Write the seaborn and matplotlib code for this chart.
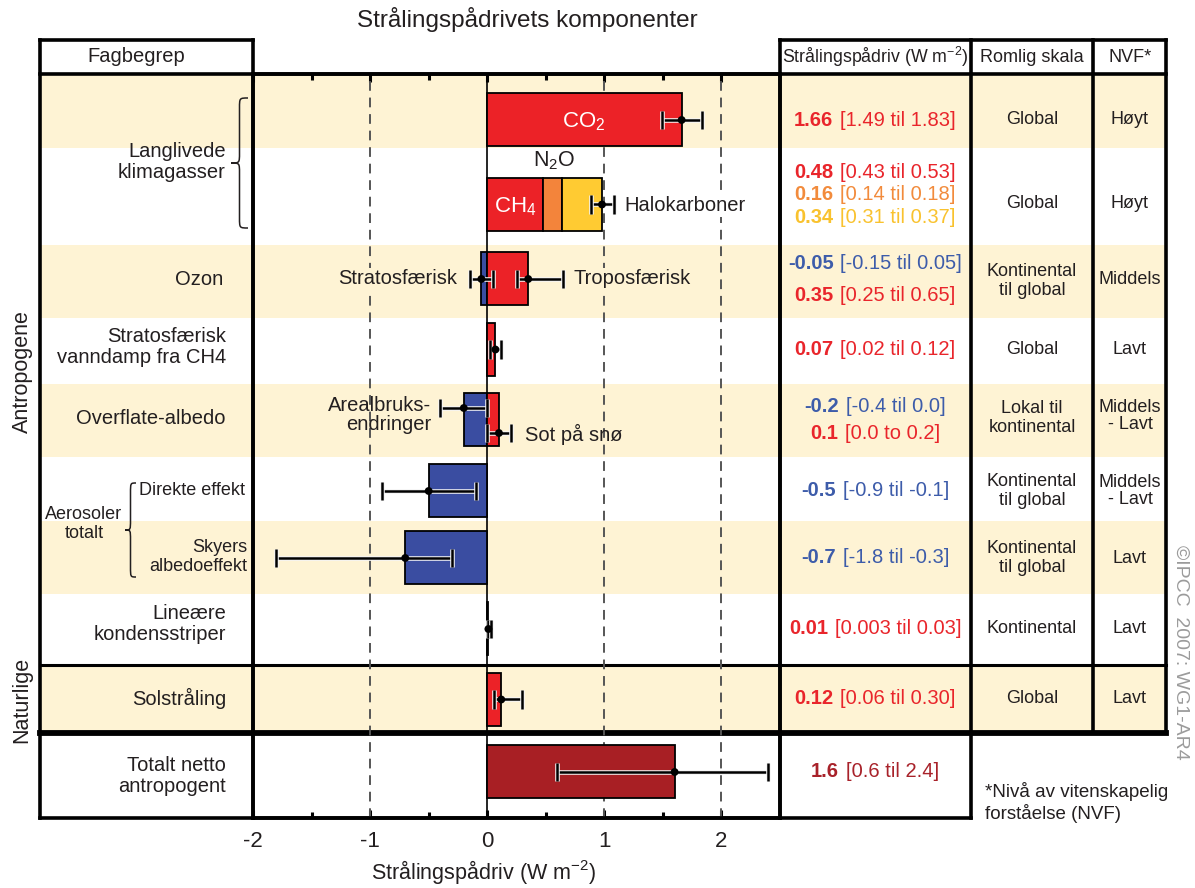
import matplotlib
matplotlib.use("Agg")
import matplotlib.pyplot as plt
import matplotlib.patheffects as pe
from matplotlib.path import Path
from matplotlib.patches import PathPatch, Rectangle
from matplotlib.offsetbox import TextArea, HPacker, AnnotationBbox
import numpy as np
import pandas as pd
import seaborn as sns

# ---------------- data ----------------
bar_components = ["CO2", "CH4", "N2O", "Halokarboner", "Stratosfærisk ozon", "Troposfærisk ozon",
                  "Stratosfærisk vanndamp", "Arealbruksendringer", "Sot på snø", "Direkte effekt",
                  "Skyers albedoeffekt", "Lineære kondensstriper", "Solstråling",
                  "Totalt netto antropogent"]
bar_values = [1.66, 0.48, 0.16, 0.34, -0.05, 0.35, 0.07, -0.20, 0.10, -0.50, -0.70, 0.01, 0.12, 1.60]
bar_rows = [0, 1, 1, 1, 2, 2, 3, 4, 4, 5, 6, 7, 8, 9]
bar_kind = ["rod", "rod", "oransje", "gul", "bla", "rod", "rod", "bla", "rod", "bla", "bla",
            "rod", "rod", "total"]

err_rows = [0, 1, 2, 2, 3, 4, 4, 5, 6, 7, 8, 9]
err_best = [1.66, 0.98, -0.05, 0.35, 0.07, -0.20, 0.10, -0.50, -0.70, 0.01, 0.12, 1.60]
err_low = [1.49, 0.89, -0.15, 0.25, 0.02, -0.40, 0.00, -0.90, -1.80, 0.003, 0.06, 0.60]
err_high = [1.83, 1.08, 0.05, 0.65, 0.12, 0.00, 0.20, -0.10, -0.30, 0.03, 0.30, 2.40]

row_labels = ["Langlivede\nklimagasser", "Ozon", "Stratosfærisk\nvanndamp fra CH4",
              "Overflate-albedo", "Lineære\nkondensstriper", "Solstråling",
              "Totalt netto\nantropogent"]
aerosol_labels = ["Direkte effekt", "Skyers\nalbedoeffekt"]

rf_best = ["1.66", "0.48", "0.16", "0.34", "-0.05", "0.35", "0.07", "-0.2", "0.1", "-0.5",
           "-0.7", "0.01", "0.12", "1.6"]
rf_range = ["[1.49 til 1.83]", "[0.43 til 0.53]", "[0.14 til 0.18]", "[0.31 til 0.37]",
            "[-0.15 til 0.05]", "[0.25 til 0.65]", "[0.02 til 0.12]", "[-0.4 til 0.0]",
            "[0.0 to 0.2]", "[-0.9 til -0.1]", "[-1.8 til -0.3]", "[0.003 til 0.03]",
            "[0.06 til 0.30]", "[0.6 til 2.4]"]
rf_kind = ["rod", "rod", "oransje", "gul", "bla", "rod", "rod", "bla", "rod", "bla", "bla",
           "rod", "rod", "total"]

spatial_scale = ["Global", "Global", "Kontinental\ntil global", "Global", "Lokal til\nkontinental",
                 "Kontinental\ntil global", "Kontinental\ntil global", "Kontinental", "Global"]
loso = ["Høyt", "Høyt", "Middels", "Lavt", "Middels\n- Lavt", "Middels\n- Lavt", "Lavt", "Lavt", "Lavt"]

x_ticks = [-2, -1, 0, 1, 2]
x_tick_labels = ["-2", "-1", "0", "1", "2"]
x_minor_ticks = [-1.5, -0.5, 0.5, 1.5]

# ---------------- layout (pixel rows) ----------------
W, H = 1195, 888
row_y = [120, 204.5, 279, 349.5, 420, 491, 558, 629, 699.5, 772]
err_dy = [0, 0, 0, 0, 0, -12, 13, 0, 0, 0, 0, 0]
rf_text_y = [120, 172, 194, 217, 263, 295, 349, 406, 433, 490, 557, 628, 698, 771]
table_row_y = [120, 203, 281, 349, 418, 491, 558, 628, 698]
loso_y = [120, 203, 279, 349, 416, 491, 558, 628, 698]
label_y = [162, 279, 347, 418, 624, 698, 776]
label_x = [226, 223, 226, 226, 226, 226, 226]
aerosol_y = [490, 557]
aerosol_x = [245, 247]
bands = [(74, 148), (245, 318), (384, 457), (521, 594), (665, 733)]

bar_colors = {"rod": "#EC2227", "oransje": "#F3843B", "gul": "#FFCB32", "bla": "#3A4DA1",
              "total": "#A81F24"}
text_colors = {"rod": "#E9252B", "oransje": "#F28B3C", "gul": "#F9C22E", "bla": "#3D5CAA",
               "total": "#A8222A"}
cream = "#FEF3D4"
ink = "#231F20"

sns.set_theme(style="white")
plt.rcParams["font.family"] = ["Liberation Sans", "DejaVu Sans"]
plt.rcParams["mathtext.fontset"] = "custom"
plt.rcParams["mathtext.rm"] = "Liberation Sans"
plt.rcParams["mathtext.it"] = "Liberation Sans:italic"
plt.rcParams["mathtext.bf"] = "Liberation Sans:bold"
plt.rcParams["text.color"] = ink

fig = plt.figure(figsize=(W / 100, H / 100), dpi=100)
fig.patch.set_facecolor("white")

# overlay in pixel coordinates
ov = fig.add_axes([0, 0, 1, 1])
ov.set_xlim(0, W)
ov.set_ylim(H, 0)
ov.axis("off")
ov.set_zorder(0)

# main bar axes
ax = fig.add_axes([253 / W, (H - 818) / H, (780 - 253) / W, (818 - 74) / H])
ax.set_zorder(1)
ax.patch.set_alpha(0)

# cream bands
for y0, y1 in bands:
    ov.add_patch(Rectangle((40, y0), 1166 - 40, y1 - y0, facecolor=cream, edgecolor="none", zorder=0))

# table lines
def hline(y, x0, x1, lw):
    ov.plot([x0, x1], [y, y], color="black", lw=lw, solid_capstyle="projecting", zorder=2)

def vline(x, y0, y1, lw):
    ov.plot([x, x], [y0, y1], color="black", lw=lw, solid_capstyle="projecting", zorder=2)

vline(40, 40, 818, 2.6)
vline(253, 40, 818, 2.6)
hline(40, 40, 253, 2.6)
hline(74, 40, 1166, 2.6)
hline(40, 780, 1166, 2.6)
vline(780, 40, 818, 2.6)
vline(971, 40, 818, 2.6)
vline(1093, 40, 733, 2.6)
vline(1166, 40, 733, 2.6)
hline(665, 40, 1166, 2.2)
hline(733, 40, 1166, 4.2)
hline(818, 40, 971, 2.6)

# bars
lefts = []
for i, (v, r) in enumerate(zip(bar_values, bar_rows)):
    prev = [bar_values[j] for j in range(i) if bar_rows[j] == r and np.sign(bar_values[j]) == np.sign(v)]
    lefts.append(sum(prev))
for v, left, r, k in zip(bar_values, lefts, bar_rows, bar_kind):
    ax.barh(row_y[r], v, left=left, height=53, color=bar_colors[k], edgecolor="black",
            linewidth=1.3, zorder=3)

# reference lines
for xv in [-1, 1, 2]:
    ax.axvline(xv, color="#555555", lw=1.4, ls=(0, (5, 3.5)), zorder=1)
ax.axvline(0, color="black", lw=1.2, zorder=2)

# error bars
ey = [row_y[r] + d for r, d in zip(err_rows, err_dy)]
best = np.array(err_best)
xerr = np.vstack([best - np.array(err_low), np.array(err_high) - best])
eb = ax.errorbar(best, ey, xerr=xerr, fmt="none", ecolor="black", elinewidth=1.8,
                 capsize=6.5, capthick=1.8, zorder=4)
halo = [pe.Stroke(linewidth=3.3, foreground="#F4F4F4"), pe.Normal()]
for cl in eb.lines[1]:
    cl.set_path_effects(halo)
for lc in eb.lines[2]:
    lc.set_path_effects(halo)
dots = pd.DataFrame({"best": err_best, "y": ey})
sns.scatterplot(data=dots, x="best", y="y", color="black", s=32, edgecolor="none",
                ax=ax, zorder=5, legend=False)

ax.set_xlim(-2, 2.5)
ax.set_ylim(818, 74)
ax.set_yticks([])
ax.set_xticks(x_ticks)
ax.set_xticklabels(x_tick_labels)
ax.set_xticks(x_minor_ticks, minor=True)
ax.tick_params(axis="x", which="both", direction="in", top=True, bottom=True, width=2.2,
               color="black")
ax.tick_params(axis="x", which="major", length=6, labelsize=16, pad=9, labelcolor=ink)
ax.tick_params(axis="x", which="minor", length=4)
ax.set_xlabel("")
ax.set_ylabel("")
for s in ax.spines.values():
    s.set_linewidth(2.6)
    s.set_color("black")

# labels inside plot
ax.text(0.82, 122, "CO$_2$", color="white", fontsize=16, ha="center", va="center", zorder=6)
ax.text(0.24, 207, "CH$_4$", color="white", fontsize=16, ha="center", va="center", zorder=6)
ax.text(0.57, 161, "N$_2$O", color=ink, fontsize=15.5, ha="center", va="center", zorder=6)
ax.text(1.17, 206, "Halokarboner", color=ink, fontsize=14.5, ha="left", va="center", zorder=6,
        bbox=dict(facecolor="white", edgecolor="none", pad=1))
ax.text(-0.26, 279, "Stratosfærisk", color=ink, fontsize=14.5, ha="right", va="center", zorder=6,
        bbox=dict(facecolor=cream, edgecolor="none", pad=1))
ax.text(0.74, 279, "Troposfærisk", color=ink, fontsize=14.5, ha="left", va="center", zorder=6,
        bbox=dict(facecolor=cream, edgecolor="none", pad=1))
ax.text(-0.48, 415, "Arealbruks-\nendringer", color=ink, fontsize=14.5, ha="right", va="center",
        multialignment="right", linespacing=1.05, zorder=6)
ax.text(0.32, 434, "Sot på snø", color=ink, fontsize=14.5, ha="left", va="center", zorder=6)

# braces
def brace(x_tip, x_end, y_top, y_bot, lw=1.1):
    ym = (y_top + y_bot) / 2
    xm = (x_tip + x_end) / 2
    r = 10
    verts = [(x_end, y_top), (xm, y_top), (xm, y_top), (xm, y_top + r),
             (xm, ym - r),
             (xm, ym), (xm, ym), (x_tip, ym),
             (xm, ym), (xm, ym), (xm, ym + r),
             (xm, y_bot - r),
             (xm, y_bot), (xm, y_bot), (x_end, y_bot)]
    codes = [Path.MOVETO, Path.CURVE4, Path.CURVE4, Path.CURVE4, Path.LINETO,
             Path.CURVE4, Path.CURVE4, Path.CURVE4, Path.CURVE4, Path.CURVE4, Path.CURVE4,
             Path.LINETO, Path.CURVE4, Path.CURVE4, Path.CURVE4]
    ov.add_patch(PathPatch(Path(verts, codes), facecolor="none", edgecolor=ink, lw=lw, zorder=3))

brace(231, 248, 98, 228)
brace(125, 136, 483, 577)

# left labels
for lab, x, y in zip(row_labels, label_x, label_y):
    ov.text(x, y, lab, fontsize=14.5, ha="right", va="center", multialignment="right",
            linespacing=1.15, zorder=4)
for lab, x, y in zip(aerosol_labels, aerosol_x, aerosol_y):
    ov.text(x, y, lab, fontsize=13, ha="right", va="center", multialignment="right",
            linespacing=1.2, zorder=4)
ov.text(84, 524, "Aerosoler\ntotalt", fontsize=13, ha="center", va="center", linespacing=1.2)
ov.text(22, 372, "Antropogene", fontsize=15.5, rotation=90, ha="center", va="center")
ov.text(22, 700, "Naturlige", fontsize=15.5, rotation=90, ha="center", va="center")

# headers
ov.text(527, 20, "Strålingspådrivets komponenter", fontsize=17.5, ha="center", va="center")
ov.text(136, 57, "Fagbegrep", fontsize=14.5, ha="center", va="center")
ov.text(875, 57, "Strålingspådriv (W m$^{-2}$)", fontsize=12.8, ha="center", va="center")
ov.text(1032, 57, "Romlig skala", fontsize=13, ha="center", va="center")
ov.text(1130, 57, "NVF*", fontsize=13, ha="center", va="center")
ov.text(484, 872, "Strålingspådriv (W m$^{-2}$)", fontsize=15.5, ha="center", va="center")

# table values: bold best estimate + range, packed and centred
for b, rng, k, y in zip(rf_best, rf_range, rf_kind, rf_text_y):
    col = text_colors[k]
    t1 = TextArea(b, textprops=dict(fontsize=14.5, fontweight="bold", color=col))
    t2 = TextArea(rng, textprops=dict(fontsize=14.5, color=col))
    pack = HPacker(children=[t1, t2], align="baseline", pad=0, sep=5)
    ab = AnnotationBbox(pack, (875, y), xycoords="data", frameon=False,
                        box_alignment=(0.5, 0.5), pad=0, zorder=4)
    ov.add_artist(ab)
for s, y in zip(spatial_scale, table_row_y):
    ov.text(1032, y, s, fontsize=13, ha="center", va="center", linespacing=1.2, zorder=4)
for s, y in zip(loso, loso_y):
    ov.text(1130, y, s, fontsize=13, ha="center", va="center", linespacing=1.0, zorder=4)

ov.text(985, 802, "*Nivå av vitenskapelig\nforståelse (NVF)", fontsize=13.5, ha="left",
        va="center", linespacing=1.2)
ov.text(1181, 652, "©IPCC  2007: WG1-AR4", fontsize=14, rotation=-90, color="#9B9B9B",
        ha="center", va="center")

fig.savefig("out.png", dpi=100, facecolor="white")
